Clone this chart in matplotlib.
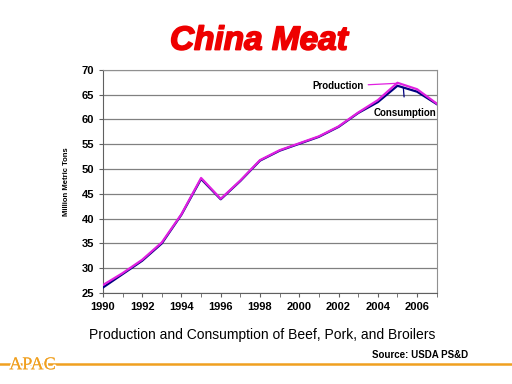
import matplotlib
matplotlib.use("Agg")
import matplotlib.pyplot as plt
import matplotlib.patheffects as pe
from matplotlib.ticker import MultipleLocator

years = list(range(1990, 2008))
production = [26.6, 29.0, 31.7, 35.2, 40.9, 48.2, 44.0, 47.7, 51.8, 53.8,
              55.2, 56.6, 58.6, 61.4, 63.9, 67.4, 66.1, 63.2]
consumption = [26.1, 28.8, 31.5, 35.0, 40.8, 48.0, 43.9, 47.6, 51.7, 53.7,
               55.1, 56.5, 58.5, 61.3, 63.5, 66.8, 65.6, 63.1]

fig = plt.figure(figsize=(5.12, 3.84), dpi=100)
fig.patch.set_facecolor("white")
ax = fig.add_axes([0.201, 0.237, 0.652, 0.581])

ax.plot(years, consumption, color="#000080", lw=1.6, zorder=3)
ax.plot(years, production, color="#E020E0", lw=1.6, zorder=4)

ax.set_xlim(1990, 2007)
ax.set_ylim(25, 70)
ax.xaxis.set_major_locator(MultipleLocator(2))
ax.xaxis.set_minor_locator(MultipleLocator(1))
ax.yaxis.set_major_locator(MultipleLocator(5))
ax.grid(axis="y", color="#808080", lw=0.9)
ax.set_axisbelow(True)
for s in ax.spines.values():
    s.set_color("#909090")
ax.spines["left"].set_color("#606060")
ax.spines["bottom"].set_color("#606060")
ax.tick_params(axis="both", which="both", color="#606060", length=3,
               labelsize=8)
for lab in ax.get_xticklabels() + ax.get_yticklabels():
    lab.set_fontweight("bold")
    lab.set_family("Liberation Sans")
ax.set_ylabel("Million Metric Tons", fontsize=5.5, fontweight="bold",
              family="Liberation Sans", labelpad=8)

# annotations
ax.annotate("Production", xy=(2005, production[15] - 0.1), xytext=(2003.3, 66.7),
            fontsize=7, fontweight="bold", family="Liberation Sans",
            ha="right", va="center",
            arrowprops=dict(arrowstyle="-", color="#E020E0", lw=0.9,
                            shrinkA=1, shrinkB=0))
ax.annotate("Consumption", xy=(2005.3, 66.4), xytext=(2007.0, 61.3),
            fontsize=7, fontweight="bold", family="Liberation Sans",
            ha="right", va="center",
            arrowprops=dict(arrowstyle="-", color="#000080", lw=0.9,
                            shrinkA=6, shrinkB=0))

title = fig.text(0.506, 0.893, "China Meat", color="#EE0000", fontsize=24,
                 fontweight="bold", style="italic", family="Liberation Sans",
                 ha="center", va="center")
title.set_path_effects([pe.withStroke(linewidth=1.2, foreground="#EE0000")])
fig.text(0.512, 0.128,
         "Production and Consumption of Beef, Pork, and Broilers",
         fontsize=10, family="Liberation Sans", ha="center", va="center")
fig.text(0.915, 0.076, "Source: USDA PS&D", fontsize=7, fontweight="bold",
         family="Liberation Sans", ha="right", va="center")

# APAC footer
fig.add_artist(plt.Line2D([0.0, 1.0], [0.052, 0.052], color="#F0A020", lw=1.8,
                          transform=fig.transFigure, zorder=0))
logo = fig.text(0.018, 0.05, "APAC", fontsize=13, color="#F0A020",
                family="Liberation Serif", ha="left", va="center")
logo.set_path_effects([pe.withStroke(linewidth=2.5, foreground="white"),
                       pe.Normal()])

fig.savefig("out.png", dpi=100)
